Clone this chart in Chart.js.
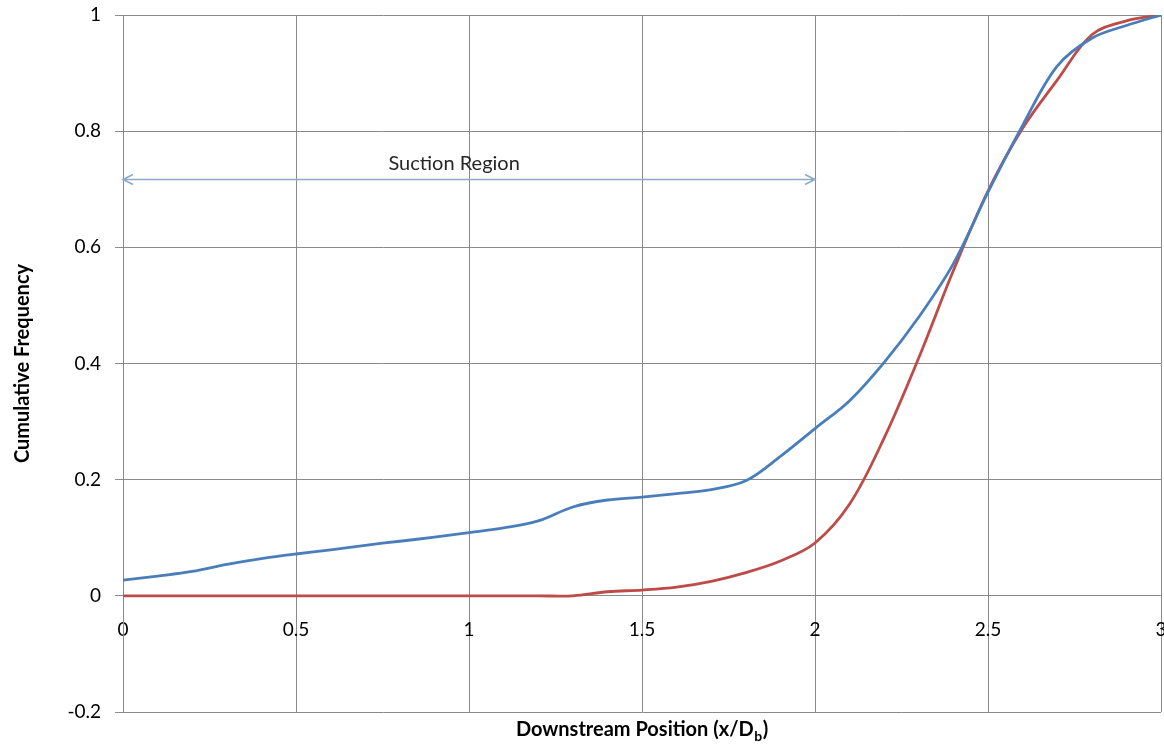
<!DOCTYPE html>
<html>
<head>
<meta charset="utf-8">
<title>Cumulative Frequency vs Downstream Position</title>
<script src="https://cdn.jsdelivr.net/npm/chart.js@4.4.1/dist/chart.umd.min.js"></script>
<style>
  html, body { margin: 0; padding: 0; background: #ffffff; }
  #wrap { width: 1164px; height: 744px; }
</style>
</head>
<body>
<div id="wrap"><canvas id="chart" width="1164" height="744"></canvas></div>
<script>
// Downstream positions (x/Db) at which the cumulative frequency was sampled
const positions = [0.0, 0.1, 0.2, 0.3, 0.4, 0.5, 0.6, 0.7, 0.8, 0.9,
                   1.0, 1.1, 1.2, 1.3, 1.4, 1.5, 1.6, 1.7, 1.8, 1.9,
                   2.0, 2.1, 2.2, 2.3, 2.4, 2.5, 2.6, 2.7, 2.8, 2.9, 3.0];

// Blue series
const seriesBlue = [0.027, 0.034, 0.042, 0.054, 0.064, 0.072, 0.079, 0.087, 0.094, 0.101,
                    0.109, 0.117, 0.129, 0.153, 0.165, 0.170, 0.176, 0.183, 0.198, 0.240,
                    0.288, 0.336, 0.402, 0.480, 0.572, 0.695, 0.810, 0.912, 0.960, 0.982, 1.000];

// Red series
const seriesRed = [0, 0, 0, 0, 0, 0, 0, 0, 0, 0,
                   0, 0, 0, 0, 0.007, 0.010, 0.015, 0.025, 0.040, 0.060,
                   0.091, 0.158, 0.272, 0.410, 0.560, 0.697, 0.805, 0.888, 0.966, 0.990, 1.000];

// Axis ticks
const xTickValues = [0, 0.5, 1, 1.5, 2, 2.5, 3];
const yTickValues = [-0.2, 0, 0.2, 0.4, 0.6, 0.8, 1];

// Annotation: the suction region spans x/Db = 0 .. 2
const suctionLabel = 'Suction Region';
const suctionStart = 0;
const suctionEnd = 2;
const suctionLevel = 0.717;
const suctionLabelX = 0.957;
const suctionLabelY = 0.745;

const FONT = 'Lato, "Open Sans", "Liberation Sans", sans-serif';
const GRID = '#8a8a8a';

const toPoints = (ys) => positions.map((x, i) => ({ x: x, y: ys[i] }));

const fmt = (v) => String(+Number(v).toFixed(2));

// Draws the suction-region arrow and the two axis titles
const decorations = {
  id: 'decorations',
  afterDatasetsDraw(chart) {
    const ctx = chart.ctx;
    const xs = chart.scales.x, ys = chart.scales.y;
    const area = chart.chartArea;

    // double-headed arrow
    const x1 = xs.getPixelForValue(suctionStart);
    const x2 = xs.getPixelForValue(suctionEnd);
    const y = Math.round(ys.getPixelForValue(suctionLevel)) + 0.5;
    ctx.save();
    ctx.strokeStyle = '#8eaac8';
    ctx.lineWidth = 1.6;
    ctx.beginPath();
    ctx.moveTo(x1, y); ctx.lineTo(x2, y);
    ctx.moveTo(x1 + 10, y - 5); ctx.lineTo(x1, y); ctx.lineTo(x1 + 10, y + 5);
    ctx.moveTo(x2 - 10, y - 5); ctx.lineTo(x2, y); ctx.lineTo(x2 - 10, y + 5);
    ctx.stroke();

    ctx.fillStyle = '#262626';
    ctx.font = '20px ' + FONT;
    ctx.textAlign = 'center';
    ctx.textBaseline = 'middle';
    ctx.fillText(suctionLabel, xs.getPixelForValue(suctionLabelX), ys.getPixelForValue(suctionLabelY));

    // x-axis title with subscript
    const cx = (area.left + area.right) / 2;
    const base = 736;
    const main = 'Downstream Position (x/D';
    const sub = 'b';
    const tail = ')';
    ctx.fillStyle = '#000000';
    ctx.textBaseline = 'alphabetic';
    const bold = 'bold 20px ' + FONT;
    const boldSub = 'bold 14px ' + FONT;
    ctx.font = bold;
    const wMain = ctx.measureText(main).width;
    const wTail = ctx.measureText(tail).width;
    ctx.font = boldSub;
    const wSub = ctx.measureText(sub).width;
    let sx = cx - (wMain + wSub + wTail + 1) / 2;
    ctx.textAlign = 'left';
    ctx.font = bold;
    ctx.fillText(main, sx, base);
    sx += wMain;
    ctx.font = boldSub;
    ctx.fillText(sub, sx + 0.5, base + 5);
    sx += wSub + 1;
    ctx.font = bold;
    ctx.fillText(tail, sx, base);

    // y-axis title
    ctx.translate(23, (area.top + area.bottom) / 2);
    ctx.rotate(-Math.PI / 2);
    ctx.textAlign = 'center';
    ctx.textBaseline = 'middle';
    ctx.font = bold;
    ctx.fillText('Cumulative Frequency', 0, 0);
    ctx.restore();
  }
};

new Chart(document.getElementById('chart'), {
  type: 'line',
  data: {
    datasets: [
      {
        label: 'Blue',
        data: toPoints(seriesBlue),
        borderColor: '#4a7ebb',
        borderWidth: 2.8,
        pointRadius: 0,
        tension: 0.35,
        fill: false
      },
      {
        label: 'Red',
        data: toPoints(seriesRed),
        borderColor: '#be4b48',
        borderWidth: 2.8,
        pointRadius: 0,
        tension: 0.35,
        fill: false
      }
    ]
  },
  options: {
    responsive: false,
    animation: false,
    events: [],
    layout: { padding: { left: 0, top: 15, right: 3, bottom: 32 } },
    plugins: {
      legend: { display: false },
      tooltip: { enabled: false },
      title: { display: false }
    },
    scales: {
      x: {
        type: 'linear',
        position: { y: 0 },
        min: 0,
        max: 3,
        afterBuildTicks: (s) => { s.ticks = xTickValues.map(v => ({ value: v })); },
        afterFit: (s) => { s.paddingLeft = 0; s.paddingRight = 0; },
        grid: { color: GRID, lineWidth: 1, tickLength: 8, drawTicks: true },
        border: { color: GRID, width: 1 },
        ticks: {
          color: '#000000',
          font: { family: FONT, size: 19 },
          padding: 15,
          maxRotation: 0,
          callback: fmt
        }
      },
      y: {
        type: 'linear',
        position: 'left',
        min: -0.2,
        max: 1,
        afterBuildTicks: (s) => { s.ticks = yTickValues.map(v => ({ value: v })); },
        afterFit: (s) => { s.width = 123; s.paddingTop = 0; s.paddingBottom = 0; },
        grid: { color: GRID, lineWidth: 1, tickLength: 8, drawTicks: true },
        border: { color: GRID, width: 1 },
        ticks: {
          color: '#000000',
          font: { family: FONT, size: 19 },
          padding: 14,
          callback: fmt
        }
      }
    }
  },
  plugins: [decorations]
});
</script>
</body>
</html>
